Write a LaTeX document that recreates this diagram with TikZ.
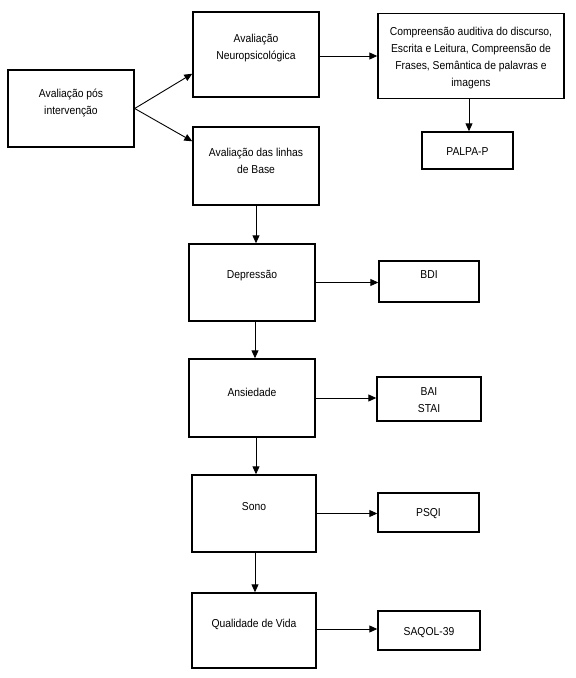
\documentclass[tikz,border=0pt]{standalone}
\usepackage{fontspec}
\setmainfont{Liberation Sans}[FakeStretch=0.9]
\usetikzlibrary{arrows.meta}

\tikzset{
  box/.style={draw, line width=1.4pt, inner sep=0pt},
  txt/.style={align=center, inner sep=0pt, font=\fontsize{11.5}{17}\selectfont},
  arr/.style={line width=0.9pt, -{Triangle[length=8pt,width=7pt]}}
}

\begin{document}
\begin{tikzpicture}[x=1pt,y=-1pt]
\useasboundingbox (0,0) rectangle (576,678);

% first column
\node [box, minimum width=126pt, minimum height=77pt] (pos) at (71,108.5) {};
\node [txt] (pos-t) at (71,103) {Avaliação pós\\intervenção};

% second column
\node [box, minimum width=126pt, minimum height=85pt] (neuro) at (256,54.5) {};
\node [txt] (neuro-t) at (256,48.5) {Avaliação\\Neuropsicológica};
\node [box, minimum width=126pt, minimum height=78pt] (base) at (256,166) {};
\node [txt] (base-t) at (256,160.5) {Avaliação das linhas\\de Base};
\node [box, minimum width=126pt, minimum height=77pt] (dep) at (252,282.5) {};
\node [txt] (dep-t) at (252,276) {Depressão};
\node [box, minimum width=126pt, minimum height=78pt] (ans) at (252,398) {};
\node [txt] (ans-t) at (252,392) {Ansiedade};
\node [box, minimum width=124pt, minimum height=77pt] (sono) at (254,513.5) {};
\node [txt] (sono-t) at (254,507) {Sono};
\node [box, minimum width=124pt, minimum height=75pt] (qual) at (254,630.5) {};
\node [txt] (qual-t) at (254,624) {Qualidade de Vida};

% third column
\node [box, minimum width=186pt, minimum height=85pt] (comp) at (471,56) {};
\node [txt] (comp-t) at (471,58.5) {Compreensão auditiva do discurso,\\Escrita e Leitura, Compreensão de\\Frases, Semântica de palavras e\\imagens};
\node [box, minimum width=91pt, minimum height=37pt] (palpa) at (467.5,150.5) {};
\node [txt] (palpa-t) at (467.5,152) {PALPA-P};
\node [box, minimum width=100pt, minimum height=41pt] (bdi) at (429,281.5) {};
\node [txt] (bdi-t) at (429,275) {BDI};
\node [box, minimum width=104pt, minimum height=44pt] (bai) at (429,399) {};
\node [txt] (bai-t) at (429,400.5) {BAI\\STAI};
\node [box, minimum width=101pt, minimum height=39pt] (psqi) at (428.5,512.5) {};
\node [txt] (psqi-t) at (428.5,514) {PSQI};
\node [box, minimum width=102pt, minimum height=39pt] (saqol) at (429,630.5) {};
\node [txt] (saqol-t) at (429,633) {SAQOL-39};

% arrows
\draw [arr] (pos.east) -- ([yshift=24pt]neuro.south west);
\draw [arr] (pos.east) -- ([yshift=-15pt]base.north west);
\draw [arr] ([yshift=-1.5pt]neuro.east) -- ([yshift=-1.5pt]neuro.east -| comp.west);
\draw [arr] ([xshift=-2pt]comp.south) -- ([xshift=-2pt]comp.south |- palpa.north);
\draw [arr] (base.south) -- (base.south |- dep.north);
\draw [arr] ([xshift=3pt]dep.south) -- ([xshift=3pt]dep.south |- ans.north);
\draw [arr] ([xshift=4pt]ans.south) -- ([xshift=4pt]ans.south |- sono.north);
\draw [arr] ([xshift=1pt]sono.south) -- ([xshift=1pt]sono.south |- qual.north);
\draw [arr] (dep.east) -- (dep.east -| bdi.west);
\draw [arr] (ans.east) -- (ans.east -| bai.west);
\draw [arr] (sono.east) -- (sono.east -| psqi.west);
\draw [arr] ([yshift=1.5pt]qual.east) -- ([yshift=1.5pt]qual.east -| saqol.west);
\end{tikzpicture}
\end{document}
